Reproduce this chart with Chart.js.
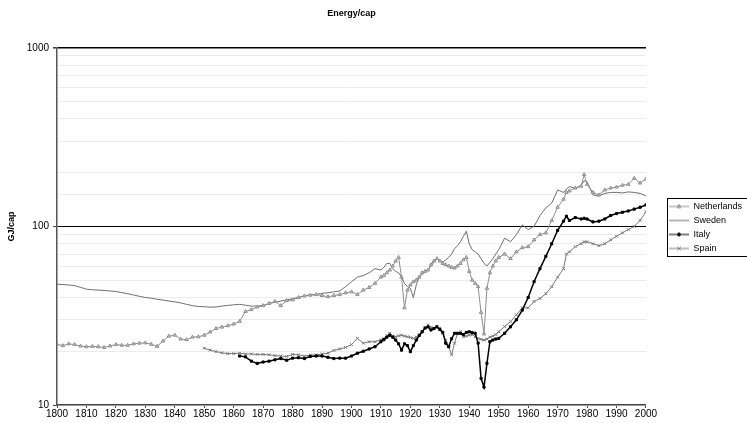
<!DOCTYPE html>
<html>
<head>
<meta charset="utf-8">
<script src="https://cdn.jsdelivr.net/npm/chart.js@4.4.1/dist/chart.umd.min.js"></script>
<style>
  body { margin: 0; background: #fff; }
  canvas { display: block; }
</style>
</head>
<body>
<canvas id="grafico" width="747" height="423"></canvas>
<script>
// anos (a cada 2 anos, anual entre 1911 e 1950)
const anos = [
  1800,1802,1804,1806,1808,1810,1812,1814,1816,1818,
  1820,1822,1824,1826,1828,1830,1832,1834,1836,1838,
  1840,1842,1844,1846,1848,1850,1852,1854,1856,1858,
  1860,1862,1864,1866,1868,1870,1872,1874,1876,1878,
  1880,1882,1884,1886,1888,1890,1892,1894,1896,1898,
  1900,1902,1904,1906,1908,1910,
  1911,1912,1913,1914,1915,1916,1917,1918,1919,1920,
  1921,1922,1923,1924,1925,1926,1927,1928,1929,1930,
  1931,1932,1933,1934,1935,1936,1937,1938,1939,1940,
  1941,1942,1943,1944,1945,1946,1947,1948,1949,1950,
  1952,1954,1956,1958,1960,1962,1964,1966,1968,1970,
  1972,1973,1974,1976,1978,1979,1980,
  1982,1984,1986,1988,1990,1992,1994,1996,1998,2000
];

const holanda = [
  21.9,21.5,22.0,21.8,21.4,21.2,21.3,21.2,21.0,21.4,
  21.8,21.6,21.6,22.0,22.2,22.3,21.9,21.3,22.8,24.3,
  24.6,23.4,23.2,24.0,24.1,24.6,25.6,26.8,27.3,27.8,
  28.4,29.4,33.4,34.2,35.4,36.0,37.0,38.0,36.0,38.4,
  38.8,40.0,40.8,41.2,41.5,41.0,40.4,41.0,41.5,42.5,
  43.0,41.5,44.0,45.5,48.0,52.0,
  53,55,57,60,64,67,52,35,44,47,
  49,50,52,55,56,57,61,64,66,64,
  62,61,60,59,58.5,60,62,65,67,56,
  50,48,46,33,25,45,55,60,64,67,
  70,66,72,76,77,84,90,92,108,128,
  142,155,158,164,168,195,172,
  155,150,160,164,166,170,172,186,175,184
];

const suecia = [
  47.5,47.2,47.0,46.6,45.6,44.5,44.2,44.0,43.8,43.5,
  43.2,42.6,42.0,41.3,40.6,40.0,39.6,39.1,38.7,38.2,
  37.8,37.3,36.6,36.0,35.6,35.5,35.3,35.4,35.8,36.1,
  36.4,36.6,36.2,35.8,35.8,36.0,37.0,37.6,38.2,38.8,
  39.4,40.0,40.8,41.5,41.6,42.2,42.5,43.0,43.5,46.0,
  49.0,52.0,53.0,55.0,58.0,57.0,
  59,62,62,58,56,55,52,48,46,45,
  40,47,52,54,56,57,60,63,66,64,
  63,65,67,70,75,78,82,88,94,80,
  74,72,70,66,62,60,63,66,70,74,
  86,82,90,102,96,100,115,127,135,160,
  155,162,167,163,170,180,178,
  150,148,153,155,155,154,156,155,153,148
];

const italia = [
  null,null,null,null,null,null,null,null,null,null,
  null,null,null,null,null,null,null,null,null,null,
  null,null,null,null,null,null,null,null,null,null,
  null,18.8,18.6,17.6,17.1,17.4,17.6,17.9,18.2,17.8,
  18.3,18.4,18.2,18.7,18.8,18.8,18.5,18.2,18.3,18.3,
  18.8,19.5,20.0,20.6,21.2,22.6,
  23.2,24.0,24.6,24.0,23.1,22.0,20.3,22.0,21.5,19.9,
  21.5,23.1,24.5,25.7,27.0,27.4,26.3,26.8,27.4,26.5,
  25.5,22.2,21.2,23.5,25.2,25.2,25.2,24.8,25.5,25.7,
  25.4,25.2,22.2,14.1,12.6,17.1,22.6,23.1,23.4,23.6,
  25.2,27.4,30,34,40,49,58,68,80,95,
  107,114,108,112,110,111,110,
  106,107,110,115,118,120,122,125,128,132
];

const espanha = [
  null,null,null,null,null,null,null,null,null,null,
  null,null,null,null,null,null,null,null,null,null,
  null,null,null,null,null,20.8,20.3,19.9,19.6,19.4,
  19.4,19.5,19.3,19.3,19.2,19.2,19.1,18.9,18.8,18.7,
  19.2,19.1,18.8,19.0,19.1,19.3,19.5,20.2,20.6,21.0,
  21.8,23.6,22.2,22.6,22.6,23.2,
  23.6,24.4,25.2,24.4,24.1,24.4,24.6,24.3,24.1,23.9,
  23.6,24.0,24.8,25.7,27.0,28.0,27.2,26.9,27.4,26.9,
  25.2,23.0,21.2,19.1,22.2,25.2,25.7,24.1,24.3,24.6,
  24.8,24.1,23.6,23.3,23.1,23.4,24.0,24.3,24.8,25.7,
  27.5,29.3,32,35,35,38,39.5,42,46,52,
  58,70,72,77,80,82,82,
  80,78,80,84,88,92,96,100,108,121
];

const nomes = ["Netherlands", "Sweden", "Italy", "Spain"];
const marcasY = [10, 100, 1000];

function pontos(valores) {
  return anos.map((a, i) => ({ x: a, y: valores[i] })).filter(p => p.y !== null);
}

// simbolo da legenda: linha com marcador no meio
function simbolo(cor, estilo, raio, fundo) {
  const c = document.createElement("canvas");
  c.width = 20;
  c.height = 8;
  const g = c.getContext("2d");
  g.strokeStyle = cor;
  g.lineWidth = 1;
  g.beginPath();
  g.moveTo(0, 4);
  g.lineTo(20, 4);
  g.stroke();
  if (estilo) {
    Chart.helpers.drawPoint(g, { pointStyle: estilo, radius: raio, borderWidth: 1, rotation: 0 }, 10, 4);
    g.fillStyle = fundo;
    g.fill();
    g.stroke();
  }
  return c;
}

const caixaLegenda = {
  id: "caixaLegenda",
  beforeDraw(chart) {
    const ctx = chart.ctx;
    ctx.save();
    ctx.fillStyle = "#fff";
    ctx.fillRect(0, 0, chart.width, chart.height);
    ctx.restore();
  },
  afterLayout(chart) {
    // empurra a legenda para a direita e para baixo, como no original
    const l = chart.legend;
    l.left += 18; l.right += 18;
    l.top += 16; l.bottom += 16;
    // titulo centrado sobre a area do grafico
    const t = chart.titleBlock;
    t.left = chart.chartArea.left;
    t.right = chart.chartArea.right;
    t.width = t.right - t.left;
  },
  afterDraw(chart) {
    const caixas = chart.legend.legendHitBoxes;
    if (!caixas || !caixas.length) return;
    const x0 = Math.min(...caixas.map(b => b.left)) - 2;
    const y0 = Math.min(...caixas.map(b => b.top)) - 4;
    const y1 = Math.max(...caixas.map(b => b.top + b.height)) + 3;
    const ctx = chart.ctx;
    ctx.save();
    ctx.strokeStyle = "#000";
    ctx.lineWidth = 1;
    ctx.strokeRect(Math.round(x0) + 0.5, Math.round(y0) + 0.5, 760 - x0, Math.round(y1 - y0));
    ctx.restore();
  }
};

const ctx = document.getElementById("grafico").getContext("2d");
let myChart = new Chart(ctx, {
  type: "line",
  data: {
    datasets: [
      {
        label: nomes[0],
        data: pontos(holanda),
        borderColor: "#8f8f8f",
        backgroundColor: "#c8c8c8",
        borderWidth: 1,
        pointStyle: "triangle",
        pointRadius: 2,
        pointBorderWidth: 1,
      },
      {
        label: nomes[1],
        data: pontos(suecia),
        borderColor: "#6e6e6e",
        backgroundColor: "#6e6e6e",
        borderWidth: 1,
        pointRadius: 0,
      },
      {
        label: nomes[2],
        data: pontos(italia),
        borderColor: "#000",
        backgroundColor: "#000",
        borderWidth: 1.5,
        pointStyle: "rect",
        pointRadius: 1.5,
        pointBorderWidth: 1,
      },
      {
        label: nomes[3],
        data: pontos(espanha),
        borderColor: "#7a7a7a",
        backgroundColor: "#7a7a7a",
        borderWidth: 1,
        pointStyle: "crossRot",
        pointRadius: 2,
        pointBorderWidth: 1,
      },
    ],
  },
  options: {
    responsive: false,
    animation: false,
    devicePixelRatio: 1,
    layout: { padding: { top: 0, right: 13, bottom: 0, left: 0 } },
    plugins: {
      title: {
        display: true,
        text: "Energy/cap",
        color: "#000",
        font: { family: "Liberation Sans, Arial", size: 9, weight: "bold" },
        padding: { top: 8, bottom: 29 },
      },
      tooltip: { enabled: false },
      legend: {
        position: "right",
        labels: {
          color: "#000",
          font: { family: "Liberation Sans, Arial", size: 9 },
          usePointStyle: true,
          pointStyleWidth: 20,
          boxHeight: 8,
          padding: 5,
          generateLabels(chart) {
            const base = Chart.defaults.plugins.legend.labels.generateLabels(chart);
            const estilos = [
              simbolo("#8f8f8f", "triangle", 2, "#c8c8c8"),
              simbolo("#6e6e6e", null),
              simbolo("#000", "rect", 1.5, "#000"),
              simbolo("#7a7a7a", "crossRot", 2, "#7a7a7a"),
            ];
            base.forEach((l, i) => { l.pointStyle = estilos[i]; });
            return base;
          },
        },
      },
    },
    scales: {
      x: {
        type: "linear",
        min: 1800,
        max: 2000,
        ticks: {
          stepSize: 10,
          color: "#000",
          font: { family: "Liberation Sans, Arial", size: 10 },
          padding: 0,
          maxRotation: 0,
          autoSkip: false,
          callback: (v) => String(v),
        },
        grid: { drawOnChartArea: false, tickLength: 3, color: "#444" },
        border: { color: "#444", width: 1.5 },
        afterFit: (s) => { s.height = 18; },
      },
      y: {
        type: "logarithmic",
        min: 10,
        max: 1000,
        title: {
          display: true,
          text: "GJ/cap",
          color: "#000",
          font: { family: "Liberation Sans, Arial", size: 9, weight: "bold" },
          padding: { top: 6, bottom: 0 },
        },
        ticks: {
          autoSkip: false,
          color: "#000",
          font: { family: "Liberation Sans, Arial", size: 10 },
          padding: 4,
          callback: (v) => (marcasY.includes(v) ? String(v) : ""),
        },
        grid: {
          color: (c) => (c.tick && (c.tick.value === 100 || c.tick.value === 1000) ? "#000" : "#ececec"),
          lineWidth: (c) => (c.tick && c.tick.value === 1000 ? 1.6 : 1),
          tickLength: 4,
          tickColor: (c) => (c.tick && marcasY.includes(c.tick.value) ? "#444" : "rgba(0,0,0,0)"),
        },
        border: { color: "#555", width: 1.5 },
        afterFit: (s) => { s.width = 57; },
      },
    },
  },
  plugins: [caixaLegenda],
});
</script>
</body>
</html>
